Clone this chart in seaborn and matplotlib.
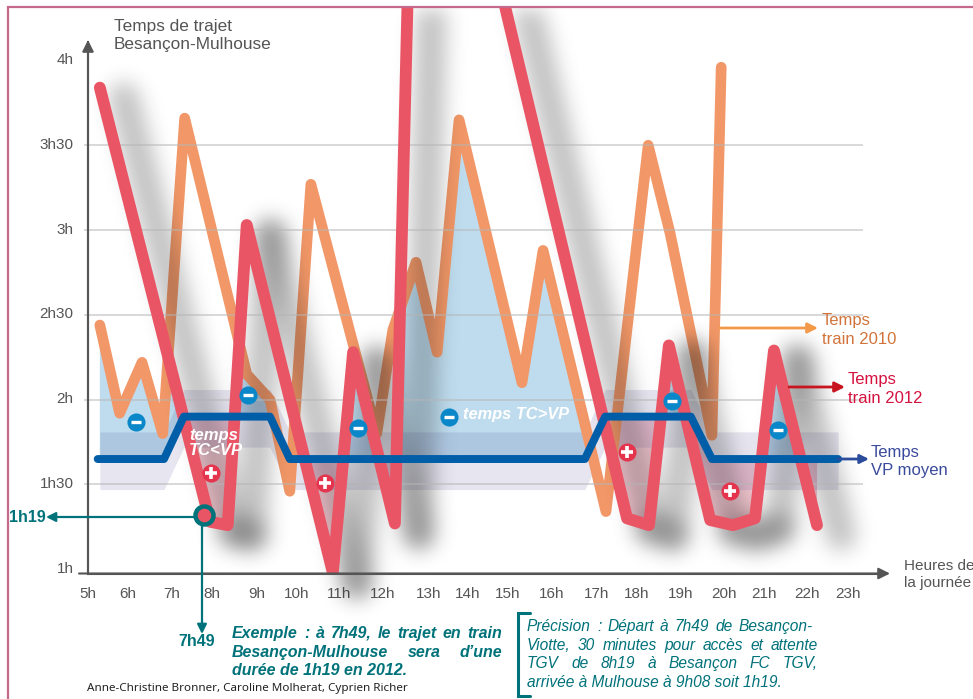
import numpy as np
import pandas as pd
import matplotlib
matplotlib.use('Agg')
import matplotlib.pyplot as plt
from matplotlib.transforms import Affine2D, ScaledTranslation, Bbox
from matplotlib.lines import Line2D
import seaborn as sns

# values, hours of the day / duration in hours
red_x = [5.36, 7.97, 8.39, 8.84, 10.88, 11.36, 12.35, 12.86, 17.85, 18.37, 18.84, 19.82, 20.36, 20.88, 21.33, 22.35]
red_y = [3.84, 1.28, 1.26, 3.03, 0.98, 2.28, 1.27, 6.51, 1.30, 1.26, 2.32, 1.29, 1.26, 1.30, 2.29, 1.26]
orange_x = [5.36, 5.83, 6.36, 6.85, 7.37, 8.84, 9.39, 9.86, 10.36, 11.92, 12.30, 12.85, 13.35, 13.87, 15.36, 15.86, 17.35, 18.35, 18.87, 19.86, 20.08]
orange_y = [2.44, 1.92, 2.22, 1.80, 3.66, 2.15, 2.00, 1.46, 3.27, 1.80, 2.41, 2.81, 2.28, 3.65, 2.10, 2.88, 1.34, 3.50, 2.98, 1.79, 3.96]
vp_x = [5.31, 6.88, 7.35, 9.39, 9.86, 16.85, 17.33, 19.36, 19.86, 22.85]
vp_y = [1.65, 1.65, 1.90, 1.90, 1.65, 1.65, 1.90, 1.90, 1.65, 1.65]
band_up = [1.81, 1.81, 2.06, 2.06, 1.81, 1.81, 2.06, 2.06, 1.81, 1.81]
band_low = [1.47, 1.47, 1.72, 1.72, 1.47, 1.47, 1.72, 1.72, 1.47, 1.47]
minus_x = [6.21, 8.87, 11.47, 13.63, 18.91, 21.43]
minus_y = [1.87, 2.03, 1.83, 1.90, 1.99, 1.82]
plus_x = [7.99, 10.69, 17.86, 20.29]
plus_y = [1.57, 1.51, 1.69, 1.46]
ex_x = 7.82
ex_y = 1.317
grid_y = [1.5, 2, 2.5, 3, 3.5]
ytick_v = [1, 1.5, 2, 2.5, 3, 3.5, 4]
ytick_l = ['1h', '1h30', '2h', '2h30', '3h', '3h30', '4h']
xtick_v = [5.08] + list(range(6, 24))
xtick_l = [f'{h}h' for h in range(5, 24)]
xtick_shift = [0, 1, 3, 1, 3, 1, 1, 3, 6, 3, 1, 3, 5, 3, 5, 6, 4, 5, 4]

RED = '#EA5565'
ORANGE = '#F29767'
BLUE = '#005EA8'
TEAL = '#00727A'
GREY = '#555555'

sns.set_style('white')
plt.rcParams['font.family'] = ['Liberation Sans', 'DejaVu Sans']

W, H = 973, 699
box = [88 / W, 1 - 573.5 / H, (885 - 88) / W, (573.5 - 42) / H]
xlim = (5.08, 23.96)
ylim = (0.975, 4.109)
pix = Affine2D().scale(1, -1).translate(0, H)  # picture pixels, y down


def soft_shadow(dx=24, dy=10, sigma=10, strength=0.27):
    # blur each stretch of the 2012 line on its own, overlaps get darker
    f2 = plt.figure(figsize=(9.73, 6.99), dpi=100, facecolor='white')
    a2 = f2.add_axes(box)
    a2.set_xlim(xlim)
    a2.set_ylim(ylim)
    a2.axis('off')
    seg, = a2.plot([], [], color='black', lw=22, clip_on=False, solid_capstyle='round')
    r = np.arange(-32, 33)
    g = np.exp(-r ** 2 / (2 * sigma ** 2))
    g = g / g.sum()
    keep = np.ones((H, W))
    for i in range(len(red_x) - 1):
        seg.set_data(red_x[i:i + 2], red_y[i:i + 2])
        f2.canvas.draw()
        img = 1 - np.asarray(f2.canvas.buffer_rgba())[:, :, 0] / 255.0
        img = np.pad(img, 50)
        img = np.roll(np.roll(img, dy, axis=0), dx, axis=1)
        img = np.apply_along_axis(lambda c: np.convolve(c, g, mode='same'), 0, img)
        img = np.apply_along_axis(lambda c: np.convolve(c, g, mode='same'), 1, img)
        keep = keep * (1 - img[50:-50, 50:-50] * strength)
    plt.close(f2)
    rgba = np.zeros((H, W, 4))
    rgba[:, :, :3] = 0.12
    rgba[:, :, 3] = 1 - keep
    rgba[:8, :, 3] = 0
    rgba[:, :8, 3] = 0
    return rgba


fig = plt.figure(figsize=(9.73, 6.99), dpi=100)
ax = fig.add_axes(box)
ax.set_xlim(xlim)
ax.set_ylim(ylim)
ax.patch.set_alpha(0)

# fills: blue where the train is longer than the car, pink where shorter
fx = np.linspace(5.36, 22.35, 2500)
r_i = np.interp(fx, red_x, red_y)
o_i = np.interp(fx, orange_x, orange_y, right=99)
v_i = np.interp(fx, vp_x, vp_y)
env = np.minimum(r_i, o_i)
ax.fill_between(fx, v_i, env, where=env > v_i, interpolate=True, color='#BEDCEE', lw=0, zorder=1)
ax.fill_between(fx, v_i, r_i, where=r_i < v_i, interpolate=True, color='#D9526F', alpha=0.33, lw=0, zorder=2)
band_x = [max(v, 5.36) for v in vp_x]
ax.fill_between(band_x, band_low, band_up, color='#58529B', alpha=0.15, lw=0, zorder=3)

df_o = pd.DataFrame({'x': orange_x, 'y': orange_y})
df_r = pd.DataFrame({'x': red_x, 'y': red_y})
df_v = pd.DataFrame({'x': vp_x, 'y': vp_y})

sns.lineplot(data=df_o, x='x', y='y', sort=False, estimator=None, color=ORANGE, lw=7.7,
             solid_capstyle='round', solid_joinstyle='round', zorder=4, ax=ax, clip_on=False)

shadow = ax.imshow(soft_shadow(), extent=(0, W, H, 0), transform=pix, aspect='auto', zorder=5,
                   interpolation='nearest', clip_on=False)
ax.set_xlim(xlim)
ax.set_ylim(ylim)

ax.hlines(grid_y, 4.98, 23.44, color='#b5b5b5', lw=1.1, alpha=0.65, zorder=6, clip_on=False)

sns.lineplot(data=df_r, x='x', y='y', sort=False, estimator=None, color=RED, lw=8.5,
             solid_capstyle='round', solid_joinstyle='round', zorder=7, ax=ax)
red_line = ax.lines[-1]
red_line.set_clip_on(True)
red_line.set_clip_box(Bbox.from_extents(8, H - 573, W, H - 8))
sns.lineplot(data=df_v, x='x', y='y', sort=False, estimator=None, color=BLUE, lw=5.7,
             solid_capstyle='round', solid_joinstyle='round', zorder=8, ax=ax)

# + / - badges
ax.scatter(minus_x, minus_y, s=170, color='#0A87C9', lw=0, zorder=9)
ax.scatter(minus_x, minus_y, s=50, marker='_', color='white', lw=2.4, zorder=10)
ax.scatter(plus_x, plus_y, s=170, color='#E5344E', lw=0, zorder=9)
ax.scatter(plus_x, plus_y, s=70, marker='+', color='white', lw=2.6, zorder=10)

# axes
ax.set_xlabel('')
ax.set_ylabel('')
for s in ['top', 'right']:
    ax.spines[s].set_visible(False)
for s in ['left', 'bottom']:
    ax.spines[s].set_color(GREY)
    ax.spines[s].set_linewidth(1.5)
    ax.spines[s].set_zorder(11)
ax.set_xticks(xtick_v, xtick_l)
ax.set_yticks(ytick_v, ytick_l)
ax.tick_params(axis='x', direction='inout', length=9.5, width=1.4, color=GREY, labelcolor=GREY, labelsize=11, pad=5, zorder=11)
ax.tick_params(axis='y', length=0, labelcolor=GREY, labelsize=11, pad=10.5)
for lab, dx in zip(ax.get_xticklabels(), xtick_shift):
    lab.set_transform(lab.get_transform() + ScaledTranslation(dx / 100, 0, fig.dpi_scale_trans))
for lab in ax.get_yticklabels():
    lab.set_transform(lab.get_transform() + ScaledTranslation(0, 2 / 100, fig.dpi_scale_trans))


def arrow(x0, y0, x1, y1, color, lw=1.5, ms=13, z=12):
    ax.annotate('', xy=(x1, y1), xytext=(x0, y0), xycoords=pix, textcoords=pix, annotation_clip=False, zorder=z,
                arrowprops=dict(arrowstyle='-|>', color=color, lw=lw, mutation_scale=ms, shrinkA=0, shrinkB=0))


def label(x, y, s, **kw):
    kw.setdefault('va', 'center')
    kw.setdefault('ha', 'left')
    kw.setdefault('zorder', 13)
    return ax.text(x, y, s, transform=pix, clip_on=False, **kw)


def justified(line, x0, x1, y, **kw):
    # spread the words of a line between two picture x positions
    r = fig.canvas.get_renderer()
    words = line.split(' ')
    items = [label(x0, y, w, va='baseline', **kw) for w in words]
    widths = [t.get_window_extent(r).width for t in items]
    gap = (x1 - x0 - sum(widths)) / (len(words) - 1)
    x = x0
    for t, w in zip(items, widths):
        t.set_x(x)
        x += w + gap


arrow(88, 573.5, 88, 40, GREY, lw=1.5, ms=17)
arrow(79, 573.5, 890, 573.5, GREY, lw=1.5, ms=17)

label(114, 35.5, 'Temps de trajet\nBesançon-Mulhouse', color=GREY, fontsize=12.4, linespacing=1.2)
label(904, 574.5, 'Heures de\nla journée', color=GREY, fontsize=11, linespacing=1.3)

arrow(720, 328, 818, 328, '#F29A4A', lw=2, ms=15)
label(822, 330, 'Temps\ntrain 2010', color='#D2743A', fontsize=12, linespacing=1.3)
arrow(789, 387, 845, 387, '#C8141F', lw=2, ms=15)
label(848, 389, 'Temps\ntrain 2012', color='#D5123F', fontsize=12, linespacing=1.3)
arrow(838, 459, 869, 459, '#2B4C9B', lw=2, ms=13)
label(871, 461, 'Temps\nVP moyen', color='#3A4A9C', fontsize=12, linespacing=1.25)

label(189, 443, 'temps\nTC<VP', color='white', fontsize=12, fontweight='bold', fontstyle='italic', linespacing=0.95)
label(463, 415, 'temps TC>VP', color='white', fontsize=11.8, fontweight='bold', fontstyle='italic')

# worked example 7h49 / 1h19
arrow(205, 517, 46, 517, TEAL, lw=1.6, ms=14)
arrow(202, 517, 202, 634, TEAL, lw=1.6, ms=14)
ax.plot([ex_x], [ex_y], 'o', ms=13, mfc=RED, mec=TEAL, mew=3.2, zorder=13, clip_on=False)
label(9, 518, '1h19', color=TEAL, fontsize=11.5, fontweight='bold')
label(197, 642, '7h49', color=TEAL, fontsize=11.5, fontweight='bold', ha='center')

ex = dict(color=TEAL, fontsize=11.5, fontweight='bold', fontstyle='italic')
justified('Exemple : à 7h49, le trajet en train', 232, 502, 638, **ex)
justified('Besançon-Mulhouse sera d’une', 232, 502, 657, **ex)
label(232, 675, 'durée de 1h19 en 2012.', va='baseline', **ex)

pr = dict(color=TEAL, fontsize=11.2, fontstyle='italic')
justified('Précision : Départ à 7h49 de Besançon-', 527, 813, 631, **pr)
justified('Viotte, 30 minutes pour accès et attente', 527, 818, 650, **pr)
justified('TGV de 8h19 à Besançon FC TGV,', 527, 818, 668, **pr)
label(527, 687, 'arrivée à Mulhouse à 9h08 soit 1h19.', va='baseline', **pr)

fig.add_artist(Line2D([530, 518, 518, 530], [613, 613, 696, 696], transform=pix, color=TEAL, lw=2.2, solid_joinstyle='miter'))
label(87, 688, 'Anne-Christine Bronner, Caroline Molherat, Cyprien Richer', va='center', color='#222222',
      fontsize=8.4, family=['Noto Sans', 'DejaVu Sans'])

# page frame, left and top only
fig.add_artist(Line2D([7.5, 7.5, W], [H, 7, 7], transform=pix, color='#C4688C', lw=1.6, solid_joinstyle='miter'))

fig.savefig('out.png', dpi=100)
